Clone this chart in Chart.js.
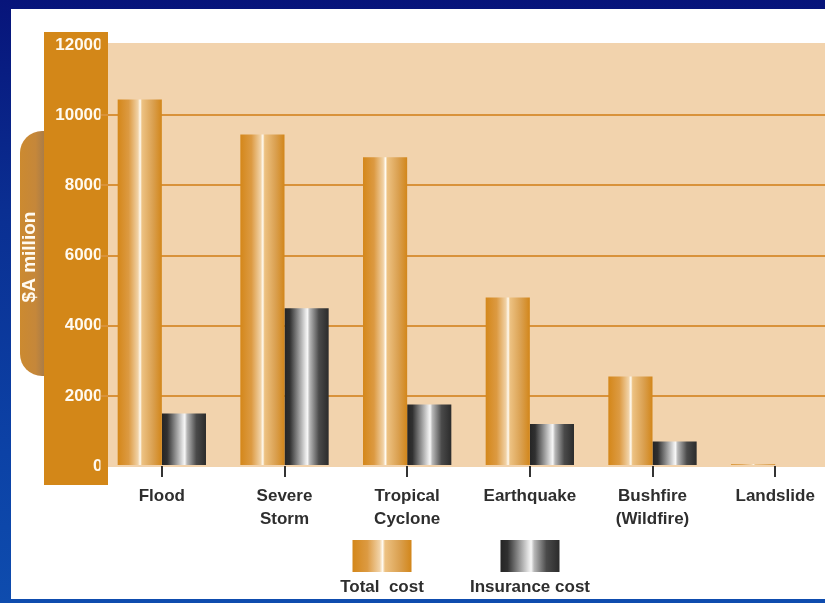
<!DOCTYPE html>
<html>
<head>
<meta charset="utf-8">
<script src="https://cdn.jsdelivr.net/npm/chart.js@4.4.1/dist/chart.umd.min.js"></script>
<style>
  html, body { margin: 0; padding: 0; width: 825px; height: 603px; overflow: hidden; }
  body { background: linear-gradient(180deg, #07147a 0%, #0a2f92 35%, #0c42a6 75%, #0e4cae 100%); position: relative; }
  #panel { position: absolute; left: 11px; top: 9px; width: 814px; height: 590px; background: #fff; }
  #grafico { position: absolute; left: 0; top: 0; }
</style>
</head>
<body>
<div id="panel"></div>
<canvas id="grafico" width="840" height="603"></canvas>
<script>
// custo dos desastres naturais na Australia ($A milhoes)
const categorias = ["Flood", ["Severe", "Storm"], ["Tropical", "Cyclone"], "Earthquake", ["Bushfire", "(Wildfire)"], "Landslide"];
const custoTotal = [10450, 9450, 8800, 4800, 2550, 50];
const custoSeguro = [1500, 4500, 1750, 1200, 700, 0];
const nomesSeries = ["Total  cost", "Insurance cost"];
const ticksY = [0, 2000, 4000, 6000, 8000, 10000, 12000];

const FONTE = '"Liberation Sans", Arial, sans-serif';
const LARANJA = "#d38718";
const catPct = 0.72;

const paradasTotal = [[0, "#d4871a"], [0.25, "#dc9a42"], [0.46, "#f1d2a6"], [0.51, "#fffbf2"], [0.55, "#edc283"], [0.8, "#daa050"], [1, "#d2861a"]];
const paradasSeguro = [[0, "#252525"], [0.12, "#303030"], [0.48, "#e6e6e6"], [0.52, "#f7f7f7"], [0.57, "#b8b8b8"], [0.78, "#4a4a4a"], [1, "#2b2b2b"]];

function gradiente(ctx, x0, x1, paradas) {
  const g = ctx.createLinearGradient(x0, 0, x1, 0);
  paradas.forEach(([p, c]) => g.addColorStop(p, c));
  return g;
}

function preenchimento(paradas, ds) {
  return (c) => {
    const x = c.chart.scales.x;
    if (!x || c.dataIndex === undefined) return paradas[0][1];
    const centro = x.getPixelForValue(c.dataIndex);
    const largura = x.width / categorias.length * catPct / 2;
    if (!isFinite(centro) || !isFinite(largura) || largura <= 0) return paradas[0][1];
    const x0 = ds === 0 ? centro - largura : centro;
    return gradiente(c.chart.ctx, x0, x0 + largura, paradas);
  };
}

const fundo = {
  id: "fundo",
  beforeDraw(chart) {
    const { ctx, chartArea } = chart;
    ctx.save();
    // area do grafico
    ctx.fillStyle = "#f2d3ad";
    ctx.fillRect(chartArea.left, chartArea.top - 2, chartArea.right - chartArea.left, chartArea.bottom - chartArea.top + 3);
    // aba do titulo do eixo y
    const tg = ctx.createLinearGradient(20, 0, 46, 0);
    tg.addColorStop(0, "#cc8a30");
    tg.addColorStop(0.6, "#c5873a");
    tg.addColorStop(1, "#a47a4a");
    ctx.fillStyle = tg;
    ctx.beginPath();
    ctx.roundRect(20, 131, 30, 245, [22, 0, 0, 22]);
    ctx.fill();
    // coluna do eixo y
    ctx.fillStyle = LARANJA;
    ctx.fillRect(44, 32, 64, 453);
    // titulo
    ctx.translate(30, 257);
    ctx.rotate(-Math.PI / 2);
    ctx.fillStyle = "#fffaf0";
    ctx.font = "bold 19px " + FONTE;
    ctx.textAlign = "center";
    ctx.textBaseline = "middle";
    ctx.fillText("$A million", 0, 0);
    ctx.restore();
  }
};

const legenda = {
  id: "legenda",
  afterDraw(chart) {
    const ctx = chart.ctx;
    const itens = [[382, paradasTotal], [530, paradasSeguro]];
    ctx.save();
    ctx.font = "bold 17px " + FONTE;
    ctx.textAlign = "center";
    ctx.textBaseline = "middle";
    itens.forEach(([cx, paradas], i) => {
      ctx.fillStyle = gradiente(ctx, cx - 29.5, cx + 29.5, paradas);
      ctx.fillRect(cx - 29.5, 540, 59, 32);
      ctx.fillStyle = "#2e2e2e";
      ctx.fillText(chart.data.datasets[i].label, cx, 587);
    });
    ctx.restore();
  }
};

Chart.defaults.font.family = FONTE;

new Chart(document.getElementById("grafico"), {
  type: "bar",
  data: {
    labels: categorias,
    datasets: [
      { label: nomesSeries[0], data: custoTotal, backgroundColor: preenchimento(paradasTotal, 0), borderWidth: 0 },
      { label: nomesSeries[1], data: custoSeguro, backgroundColor: preenchimento(paradasSeguro, 1), borderWidth: 0 }
    ]
  },
  options: {
    responsive: false,
    animation: false,
    datasets: { bar: { barPercentage: 1, categoryPercentage: catPct } },
    layout: { padding: { left: 0, top: 45, right: 3.5, bottom: 0 } },
    plugins: { legend: { display: false }, tooltip: { enabled: false } },
    scales: {
      x: {
        afterFit(s) { s.height = 137; },
        border: { display: false },
        grid: { offset: false, drawOnChartArea: false, tickLength: 11, color: "#333", lineWidth: 2 },
        ticks: { color: "#2e2e2e", padding: 8, font: { size: 17, weight: "bold", lineHeight: 1.34 }, maxRotation: 0, autoSkip: false }
      },
      y: {
        min: 0,
        max: 12000,
        afterFit(s) { s.width = 100.5; },
        afterBuildTicks(s) { s.ticks = ticksY.map(v => ({ value: v })); },
        border: { display: false },
        grid: {
          drawTicks: false,
          lineWidth: 2,
          color: (c) => (c.tick && (c.tick.value === 0 || c.tick.value === 12000)) ? "rgba(0,0,0,0)" : "#d9923a"
        },
        ticks: { color: "#fffaf0", padding: -2, font: { size: 17, weight: "bold" }, callback: (v) => String(v) }
      }
    }
  },
  plugins: [fundo, legenda]
});
</script>
</body>
</html>
